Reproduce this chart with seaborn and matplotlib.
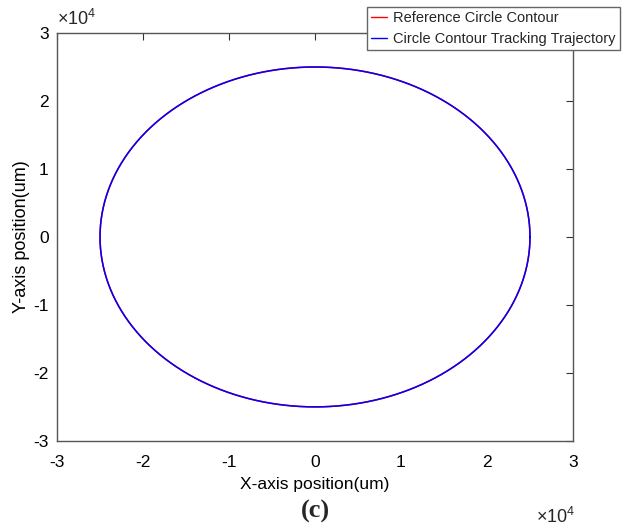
import numpy as np
import pandas as pd
import matplotlib
matplotlib.use("Agg")
import matplotlib.pyplot as plt
from matplotlib.ticker import FuncFormatter
from matplotlib.lines import Line2D
import seaborn as sns

# Contour parameters (um)
center_x = 0.0
center_y = 0.0
radius_ref = 25000.0
radius_track = 25000.0
series_names = ["Reference Circle Contour", "Circle Contour Tracking Trajectory"]
series_colors = ["#ff0000", "#0000ff"]
tick_values = [-30000, -20000, -10000, 0, 10000, 20000, 30000]

sns.set_theme(style="white")
plt.rcParams["font.family"] = ["Liberation Sans", "DejaVu Sans"]
plt.rcParams["mathtext.fontset"] = "custom"
plt.rcParams["mathtext.rm"] = "Liberation Sans"

theta = np.linspace(0, 2 * np.pi, 721)
frames = []
for name, r in zip(series_names, [radius_ref, radius_track]):
    frames.append(pd.DataFrame({
        "x": center_x + r * np.cos(theta),
        "y": center_y + r * np.sin(theta),
        "series": name,
    }))
df = pd.concat(frames, ignore_index=True)

fig = plt.figure(figsize=(6.3, 5.28), dpi=100)
ax = fig.add_axes([0.0905, 0.165, 0.819, 0.7725])

sns.lineplot(data=df, x="x", y="y", hue="series",
             palette=dict(zip(series_names, series_colors)), sort=False,
             estimator=None, linewidth=1.1, ax=ax, legend=False)

ax.set_xlim(tick_values[0], tick_values[-1])
ax.set_ylim(tick_values[0], tick_values[-1])
ax.set_xticks(tick_values)
ax.set_yticks(tick_values)
fmt = FuncFormatter(lambda v, p: f"{v / 1e4:g}")
ax.xaxis.set_major_formatter(fmt)
ax.yaxis.set_major_formatter(fmt)

axis_gray = "#555555"
for s in ax.spines.values():
    s.set_color(axis_gray)
    s.set_linewidth(1.0)
ax.tick_params(direction="in", length=5, width=0.8, color="#333333",
               top=True, right=True, labelsize=12.5, labelcolor="black")
ax.tick_params(axis="x", pad=10)
ax.tick_params(axis="y", pad=6)

ax.set_xlabel("X-axis position(um)", fontsize=12.5, color="black", labelpad=5)
ax.set_ylabel("Y-axis position(um)", fontsize=13, color="black", labelpad=2)

# Exponent multipliers
ax.text(0.0, 1.01, r"$\times10^{4}$", transform=ax.transAxes, fontsize=13,
        ha="left", va="bottom")
ax.text(1.005, -0.21, r"$\times10^{4}$", transform=ax.transAxes, fontsize=13,
        ha="right", va="bottom")

# Legend
handles = [Line2D([0], [0], color=c, lw=1.0) for c in series_colors]
leg = fig.legend(handles, series_names, loc="upper right",
                 bbox_to_anchor=(620 / 630, 1 - 7 / 528), fontsize=10.5,
                 frameon=True, fancybox=False, framealpha=1.0,
                 edgecolor="#666666", handlelength=1.1, handletextpad=0.4,
                 borderpad=0.3, labelspacing=0.45, borderaxespad=0.0)
leg.get_frame().set_linewidth(1.0)

fig.text(0.5, 1 - 511 / 528, "(c)", fontsize=19, fontweight="bold",
         family=["Liberation Serif", "DejaVu Serif"], ha="center", va="center")

fig.savefig("out.png", dpi=100, facecolor="white")
